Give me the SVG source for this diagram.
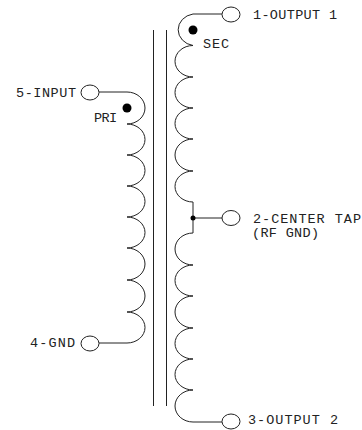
<svg xmlns="http://www.w3.org/2000/svg" width="362" height="430" viewBox="0 0 362 430">
<style>
.w{fill:none;stroke:#222;stroke-width:1}
.c{fill:#fff;stroke:#222;stroke-width:1}
.d{fill:#000}
text{font-family:"Liberation Mono","DejaVu Sans Mono",monospace;font-size:13.5px;fill:#222}
</style>
<rect width="362" height="430" fill="#fff"/>
<g id="connectors">
<path class="w" d="M153.500 30V406M166.500 30V406"/>
<path class="w" d="M99 92H127A18 16 0 0 1 127 124A18 15.500 0 0 1 127 155A18 15.500 0 0 1 127 186A18 15.500 0 0 1 127 217A18 15.500 0 0 1 127 248A18 16 0 0 1 127 280A18 16 0 0 1 127 312A18 15.500 0 0 1 127 343H99"/>
<path class="w" d="M222 14H193A18 16 0 0 0 193 45.500A18 15.750 0 0 0 193 77A18 15.500 0 0 0 193 108A18 15.500 0 0 0 193 139A18 16 0 0 0 193 171A18 15.500 0 0 0 193 202V233A18 16 0 0 0 193 265A18 15.500 0 0 0 193 296A18 16 0 0 0 193 328A18 15.500 0 0 0 193 359A18 15.500 0 0 0 193 390A18 16 0 0 0 193 422H222"/>
<path class="w" d="M193 218H222"/>
</g>
<g id="node-5-input"><ellipse class="c" cx="90" cy="92.500" rx="9" ry="7.500"/><text x="16" y="96.500" textLength="60">5-INPUT</text></g>
<g id="node-pri"><circle class="d" cx="127" cy="108" r="4.500"/><text x="94" y="122" textLength="23">PRI</text></g>
<g id="node-4-gnd"><ellipse class="c" cx="90" cy="343.500" rx="9" ry="7.500"/><text x="30" y="347" textLength="45">4-GND</text></g>
<g id="node-1-output-1"><ellipse class="c" cx="231" cy="14.500" rx="9" ry="7.500"/><text x="253" y="18.500" textLength="84">1-OUTPUT 1</text></g>
<g id="node-sec"><circle class="d" cx="193" cy="30" r="4.500"/><text x="203" y="47.500" textLength="26">SEC</text></g>
<g id="node-2-center-tap"><circle class="d" cx="193" cy="218" r="2.500"/><ellipse class="c" cx="231" cy="218" rx="9" ry="7.500"/><text x="253" y="222.500" textLength="108">2-CENTER TAP</text><text x="252" y="237" textLength="67">(RF GND)</text></g>
<g id="node-3-output-2"><ellipse class="c" cx="231" cy="421.500" rx="9" ry="7.500"/><text x="248" y="424" textLength="90">3-OUTPUT 2</text></g>
</svg>
